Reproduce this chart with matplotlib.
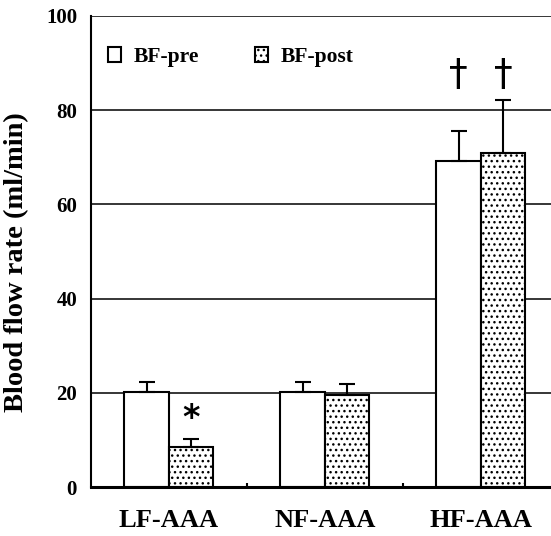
import numpy as np
import matplotlib
matplotlib.use('Agg')
import matplotlib.pyplot as plt

plt.rcParams['font.family'] = 'Liberation Serif'
plt.rcParams['font.weight'] = 'bold'
plt.rcParams['axes.labelweight'] = 'bold'
plt.rcParams['hatch.linewidth'] = 1.0

groups = ['LF-AAA', 'NF-AAA', 'HF-AAA']
pre = [20.2, 20.1, 69.2]
pre_err = [2.0, 2.2, 6.4]
post = [8.5, 19.5, 70.9]
post_err = [1.7, 2.4, 11.2]
yticks = [0, 20, 40, 60, 80, 100]

fig = plt.figure(figsize=(5.51, 5.36), dpi=100)
ax = fig.add_axes([0.165, 0.0914, 0.835, 0.879])

x = np.arange(len(groups))
w = 0.285

for y in yticks[1:]:
    ax.axhline(y, color='black', linewidth=1.1, zorder=0)

b1 = ax.bar(x - w/2, pre, w, color='white', edgecolor='black', linewidth=1.5,
            label='BF-pre', zorder=2)
b2 = ax.bar(x + w/2, post, w, color='white', edgecolor='black', linewidth=1.5,
            hatch='...', label='BF-post', zorder=2)
ax.errorbar(x - w/2, pre, yerr=[[0]*3, pre_err], fmt='none', ecolor='black',
            elinewidth=1.5, capsize=5.8, capthick=1.5, zorder=3)
ax.errorbar(x + w/2, post, yerr=[[0]*3, post_err], fmt='none', ecolor='black',
            elinewidth=1.5, capsize=5.8, capthick=1.5, zorder=3)

# significance marks
ax.text(x[0] + w/2, 14.5, '*', ha='center', va='center', fontsize=24,
        family='DejaVu Sans')
for xi in [x[2] - w/2, x[2] + w/2]:
    ax.text(xi, 87.5, '\u2020', ha='center', va='center', fontsize=27,
            fontweight='normal', family='DejaVu Sans')

ax.set_xlim(-0.5, 2.45)
ax.set_ylim(0, 100)
ax.set_yticks(yticks)
ax.set_xticks(x)
ax.set_xticklabels(groups, fontsize=19, fontweight='bold')
ax.set_yticklabels([str(v) for v in yticks], fontsize=15, fontweight='bold')
ax.tick_params(axis='y', length=0, pad=10)
ax.tick_params(axis='x', length=0, pad=16)
ax.set_xticks([0.5, 1.5], minor=True)
ax.tick_params(axis='x', which='minor', direction='in', length=3, width=1.5)

for s in ['top', 'right']:
    ax.spines[s].set_visible(False)
ax.spines['left'].set_linewidth(1.5)
ax.spines['bottom'].set_linewidth(2.2)

ax.set_ylabel('Blood flow rate (ml/min)', fontsize=20.5, labelpad=12)
ax.yaxis.label.set_y(0.478)

ax.legend(loc='upper left', ncol=2, frameon=False,
          prop={'size': 15.5, 'weight': 'bold'},
          handlelength=0.6, handleheight=0.7, handletextpad=0.6,
          columnspacing=2.6, bbox_to_anchor=(-0.005, 0.975))

plt.savefig('out.png', dpi=100)
